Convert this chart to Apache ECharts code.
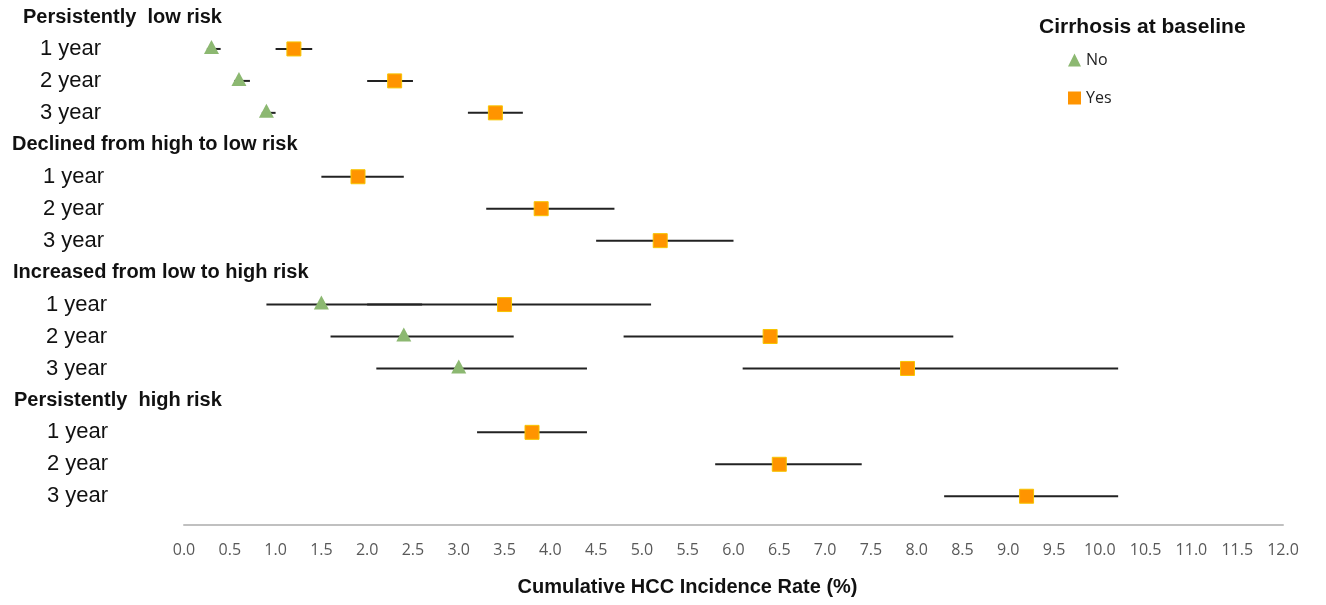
<!DOCTYPE html>
<html>
<head>
<meta charset="utf-8">
<script src="https://cdn.jsdelivr.net/npm/echarts@6/dist/echarts.min.js"></script>
<style>
html,body{margin:0;padding:0;background:#fff;}
#chart{width:1326px;height:605px;}
</style>
</head>
<body>
<div id="chart"></div>
<script>
// Row labels (top to bottom)
const rowLabels = [
  'Persistently  low risk', '1 year', '2 year', '3 year',
  'Declined from high to low risk', '1 year', '2 year', '3 year',
  'Increased from low to high risk', '1 year', '2 year', '3 year',
  'Persistently  high risk', '1 year', '2 year', '3 year'
];
const headerRows = [0, 4, 8, 12];

// Cirrhosis: No
const noRows = [1, 2, 3, 9, 10, 11];
const noVal  = [0.3, 0.6, 0.9, 1.5, 2.4, 3.0];
const noLo   = [0.25, 0.55, 0.85, 0.9, 1.6, 2.1];
const noHi   = [0.4, 0.72, 1.0, 2.6, 3.6, 4.4];

// Cirrhosis: Yes
const yesRows = [1, 2, 3, 5, 6, 7, 9, 10, 11, 13, 14, 15];
const yesVal  = [1.2, 2.3, 3.4, 1.9, 3.9, 5.2, 3.5, 6.4, 7.9, 3.8, 6.5, 9.2];
const yesLo   = [1.0, 2.0, 3.1, 1.5, 3.3, 4.5, 2.0, 4.8, 6.1, 3.2, 5.8, 8.3];
const yesHi   = [1.4, 2.5, 3.7, 2.4, 4.7, 6.0, 5.1, 8.4, 10.2, 4.4, 7.4, 10.2];

const xMin = 0, xMax = 12, xStep = 0.5;

// label indents (style only) per group
const headerPad = [11, 0, 1, 2];
const rowPad = [28, 31, 34, 35];

const chart = echarts.init(document.getElementById('chart'));

function errBar(params, api) {
  const y = api.value(0);
  const p1 = api.coord([api.value(1), y]);
  const p2 = api.coord([api.value(2), y]);
  return {
    type: 'line',
    shape: {x1: p1[0], y1: p1[1], x2: p2[0], y2: p2[1]},
    style: {stroke: '#222', lineWidth: 2}
  };
}

const font = 'Liberation Sans, Arial, sans-serif';
const rich = {};
for (let g = 0; g < 4; g++) {
  rich['h' + g] = {fontFamily: font, fontWeight: 'bold', fontSize: 20, color: '#111', padding: [0, 0, 0, headerPad[g]]};
  rich['r' + g] = {fontFamily: font, fontSize: 22, color: '#111', padding: [0, 0, 0, rowPad[g]]};
}

chart.setOption({
  animation: false,
  backgroundColor: '#fff',
  title: {
    text: 'Cirrhosis at baseline',
    left: 1034, top: 12,
    textStyle: {fontFamily: font, fontWeight: 'bold', fontSize: 21, color: '#111'}
  },
  legend: {
    orient: 'vertical',
    left: 1063, top: 47,
    itemGap: 22,
    itemWidth: 13, itemHeight: 13,
    itemStyle: {borderWidth: 0},
    data: ['No', 'Yes'],
    textStyle: {fontFamily: 'Open Sans, sans-serif', fontSize: 16, color: '#222'}
  },
  grid: {left: 184, right: 43, top: 17, bottom: 80},
  xAxis: {
    type: 'value',
    min: xMin, max: xMax, interval: xStep,
    axisLine: {show: true, onZero: false, lineStyle: {color: '#c0c0c0', width: 2}},
    axisTick: {show: false},
    splitLine: {show: false},
    axisLabel: {
      margin: 17,
      color: '#595959',
      fontFamily: 'Open Sans, sans-serif',
      fontSize: 16,
      formatter: v => v.toFixed(1)
    },
    name: 'Cumulative HCC Incidence Rate (%)',
    nameLocation: 'middle',
    nameGap: 52,
    nameTextStyle: {fontFamily: font, fontWeight: 'bold', fontSize: 20, color: '#111', padding: [0, 92, 0, 0]}
  },
  yAxis: {
    type: 'value',
    inverse: true,
    min: 0, max: 15.9, interval: 1,
    axisLine: {show: false},
    axisTick: {show: false},
    splitLine: {show: false},
    axisLabel: {
      align: 'left',
      margin: 172,
      showMaxLabel: false,
      formatter: function (v) {
        if (v < 0 || v !== Math.round(v) || v >= rowLabels.length) return '';
        const t = rowLabels[v];
        const g = Math.floor(v / 4);
        return headerRows.indexOf(v) >= 0 ? '{h' + g + '|' + t + '}' : '{r' + g + '|' + t + '}';
      },
      rich: rich
    }
  },
  series: [
    {
      type: 'custom', name: 'noErr', renderItem: errBar, silent: true,
      encode: {x: [1, 2], y: 0},
      data: noRows.map((r, i) => [r, noLo[i], noHi[i]]), z: 1
    },
    {
      type: 'custom', name: 'yesErr', renderItem: errBar, silent: true,
      encode: {x: [1, 2], y: 0},
      data: yesRows.map((r, i) => [r, yesLo[i], yesHi[i]]), z: 1
    },
    {
      type: 'scatter', name: 'No',
      symbol: 'triangle', symbolSize: [15, 14], symbolOffset: [0, -2],
      itemStyle: {color: '#8cb871', opacity: 1},
      data: noRows.map((r, i) => [noVal[i], r]), z: 3
    },
    {
      type: 'scatter', name: 'Yes',
      symbol: 'rect', symbolSize: 14,
      itemStyle: {color: '#ff9400', borderColor: '#f7c400', borderWidth: 1, opacity: 1},
      data: yesRows.map((r, i) => [yesVal[i], r]), z: 3
    }
  ]
});
</script>
</body>
</html>
